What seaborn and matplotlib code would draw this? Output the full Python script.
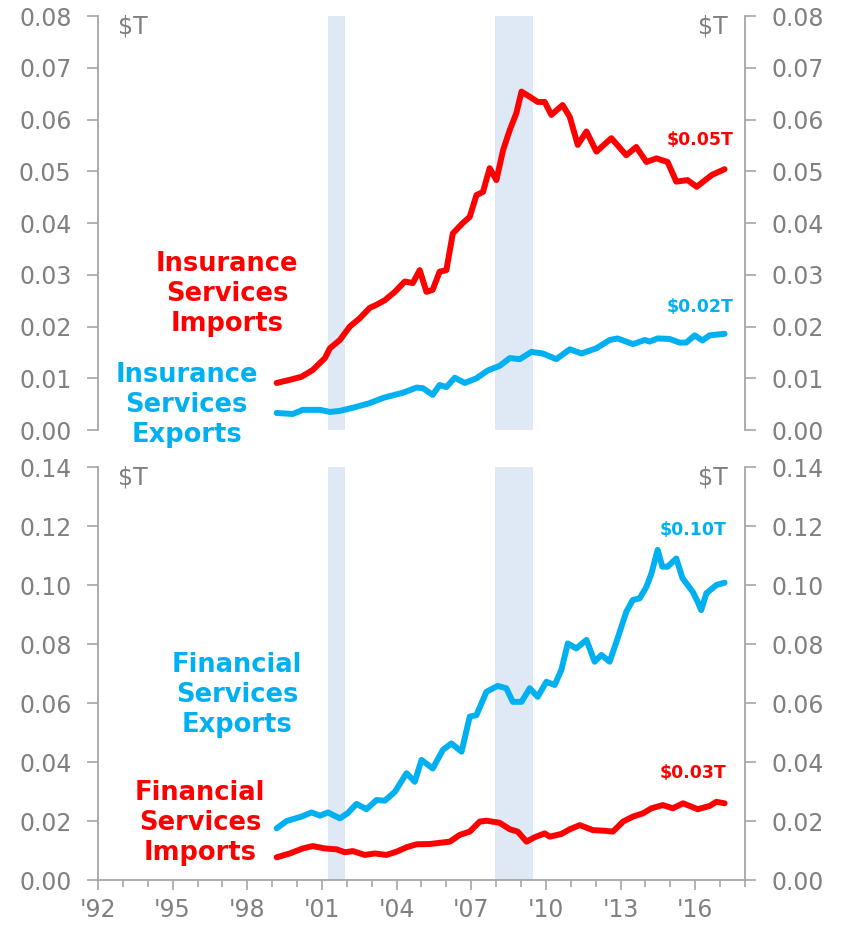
import pandas as pd
import matplotlib
matplotlib.use("Agg")
import matplotlib.pyplot as plt
import seaborn as sns
from matplotlib.ticker import MultipleLocator, FormatStrFormatter

# --- data ($T) ---
ins_imp_years = [1999.18, 1999.71, 2000.18, 2000.63, 2001.12, 2001.32, 2001.72, 2002.12,
                 2002.52, 2002.92, 2003.19, 2003.53, 2003.93, 2004.33, 2004.65, 2004.93,
                 2005.2, 2005.45, 2005.73, 2006.0, 2006.26, 2006.66, 2006.94, 2007.21,
                 2007.47, 2007.74, 2008.01, 2008.28, 2008.55, 2008.81, 2009.02, 2009.35,
                 2009.67, 2009.95, 2010.22, 2010.67, 2010.96, 2011.28, 2011.63, 2012.03,
                 2012.63, 2013.23, 2013.63, 2014.04, 2014.44, 2014.89, 2015.24, 2015.69,
                 2016.06, 2016.67, 2017.18]
ins_imp_vals = [0.0091, 0.0097, 0.0103, 0.0116, 0.0139, 0.0158, 0.0174, 0.0200,
                0.0216, 0.0236, 0.0242, 0.0251, 0.0267, 0.0287, 0.0284, 0.0309,
                0.0267, 0.0271, 0.0306, 0.0309, 0.0380, 0.0400, 0.0412, 0.0454,
                0.0460, 0.0506, 0.0483, 0.0541, 0.0580, 0.0612, 0.0654, 0.0644,
                0.0634, 0.0634, 0.0609, 0.0628, 0.0605, 0.0551, 0.0577, 0.0538,
                0.0564, 0.0531, 0.0547, 0.0518, 0.0525, 0.0518, 0.0480, 0.0483,
                0.0470, 0.0493, 0.0504]

ins_exp_years = [1999.18, 1999.83, 2000.23, 2000.92, 2001.32, 2001.72, 2002.24, 2002.92,
                 2003.45, 2004.25, 2004.8, 2005.05, 2005.45, 2005.73, 2006.0, 2006.34,
                 2006.74, 2007.21, 2007.66, 2008.14, 2008.55, 2008.95, 2009.42, 2009.87,
                 2010.42, 2010.96, 2011.43, 2012.03, 2012.56, 2012.88, 2013.5, 2013.97,
                 2014.17, 2014.49, 2014.97, 2015.37, 2015.64, 2015.98, 2016.29, 2016.58,
                 2017.18]
ins_exp_vals = [0.0033, 0.0031, 0.0039, 0.0039, 0.0035, 0.0037, 0.0043, 0.0052,
                0.0062, 0.0072, 0.0082, 0.0081, 0.0068, 0.0087, 0.0083, 0.0101,
                0.0091, 0.0100, 0.0115, 0.0124, 0.0139, 0.0137, 0.0151, 0.0148,
                0.0137, 0.0156, 0.0148, 0.0158, 0.0174, 0.0177, 0.0166, 0.0174,
                0.0171, 0.0177, 0.0176, 0.0169, 0.0169, 0.0183, 0.0173, 0.0183,
                0.0186]

fin_exp_years = [1999.18, 1999.58, 2000.18, 2000.58, 2000.92, 2001.24, 2001.72, 2002.04,
                 2002.39, 2002.79, 2003.19, 2003.53, 2003.93, 2004.4, 2004.73, 2005.0,
                 2005.45, 2005.86, 2006.2, 2006.61, 2006.94, 2007.21, 2007.61, 2008.06,
                 2008.41, 2008.67, 2009.02, 2009.35, 2009.67, 2010.02, 2010.35, 2010.62,
                 2010.88, 2011.22, 2011.63, 2011.96, 2012.23, 2012.56, 2012.88, 2013.23,
                 2013.49, 2013.77, 2014.04, 2014.24, 2014.49, 2014.68, 2014.89, 2015.24,
                 2015.49, 2015.9, 2016.1, 2016.24, 2016.45, 2016.85, 2017.18]
fin_exp_vals = [0.0175, 0.0200, 0.0215, 0.0229, 0.0218, 0.0229, 0.0209, 0.0227,
                0.0258, 0.0240, 0.0271, 0.0269, 0.0299, 0.0362, 0.0333, 0.0407,
                0.0378, 0.0441, 0.0463, 0.0435, 0.0554, 0.0559, 0.0638, 0.0658,
                0.0650, 0.0604, 0.0604, 0.0650, 0.0621, 0.0672, 0.0661, 0.0712,
                0.0802, 0.0785, 0.0814, 0.0740, 0.0763, 0.0740, 0.0819, 0.0909,
                0.0949, 0.0955, 0.0994, 0.1039, 0.1119, 0.1062, 0.1062, 0.1090,
                0.1023, 0.0977, 0.0943, 0.0915, 0.0972, 0.1000, 0.1008]

fin_imp_years = [1999.18, 1999.71, 2000.23, 2000.63, 2001.12, 2001.59, 2001.92, 2002.24,
                 2002.72, 2003.12, 2003.59, 2004.0, 2004.4, 2004.8, 2005.33, 2005.73,
                 2006.14, 2006.54, 2006.94, 2007.34, 2007.61, 2008.14, 2008.55, 2008.87,
                 2009.22, 2009.55, 2009.95, 2010.15, 2010.62, 2010.96, 2011.36, 2011.89,
                 2012.36, 2012.69, 2013.1, 2013.5, 2013.9, 2014.24, 2014.7, 2015.1,
                 2015.51, 2016.1, 2016.58, 2016.85, 2017.18]
fin_imp_vals = [0.0077, 0.0090, 0.0107, 0.0115, 0.0107, 0.0104, 0.0094, 0.0098,
                0.0085, 0.0090, 0.0085, 0.0096, 0.0111, 0.0121, 0.0122, 0.0126,
                0.0130, 0.0153, 0.0164, 0.0198, 0.0201, 0.0194, 0.0172, 0.0164,
                0.0130, 0.0145, 0.0158, 0.0147, 0.0156, 0.0172, 0.0186, 0.0169,
                0.0167, 0.0164, 0.0198, 0.0215, 0.0226, 0.0243, 0.0254, 0.0243,
                0.0260, 0.0240, 0.0251, 0.0265, 0.0260]

recessions = [(2001.25, 2001.92), (2007.95, 2009.5)]
xtick_years = list(range(1992, 2017, 3))
xtick_labels = ["'92", "'95", "'98", "'01", "'04", "'07", "'10", "'13", "'16"]

RED = "#ff0000"
BLUE = "#00b0f0"
GRAY = "#808080"
SPINE = "#a6a6a6"
SHADE = "#dfe9f6"

sns.set_style("white")
plt.rcParams["font.family"] = ["DejaVu Sans"]


def make_df(years, vals):
    return pd.DataFrame({"year": years, "value": vals})


def style_axis(ax, ymax, ystep):
    ax.set_ylim(0, ymax)
    ax.set_xlim(1992, 2018)
    ax.yaxis.set_major_locator(MultipleLocator(ystep))
    ax.yaxis.set_major_formatter(FormatStrFormatter("%.2f"))
    ax.tick_params(axis="y", which="both", left=True, right=True,
                   labelleft=True, labelright=True, length=8, width=1.2,
                   color=SPINE, labelcolor=GRAY, labelsize=17, pad=11, direction="out")
    for side in ["left", "right"]:
        ax.spines[side].set_visible(True)
        ax.spines[side].set_color(SPINE)
        ax.spines[side].set_linewidth(1.3)
    ax.spines["top"].set_visible(False)
    ax.set_xlabel("")
    ax.set_ylabel("")
    for start, end in recessions:
        ax.axvspan(start, end, color=SHADE, lw=0, zorder=0)
    ax.text(0.031, 0.975, "$T", transform=ax.transAxes, ha="left", va="center",
            fontsize=17, color=GRAY)
    ax.text(0.974, 0.975, "$T", transform=ax.transAxes, ha="right", va="center",
            fontsize=17, color=GRAY)


fig = plt.figure(figsize=(8.46, 9.27), dpi=100)
ax1 = fig.add_axes([0.1158, 0.5361, 0.7648, 0.4466])
ax2 = fig.add_axes([0.1158, 0.0507, 0.7648, 0.4455])

# top panel: insurance
sns.lineplot(data=make_df(ins_imp_years, ins_imp_vals), x="year", y="value",
             color=RED, lw=4.3, ax=ax1, solid_capstyle="round", solid_joinstyle="round")
sns.lineplot(data=make_df(ins_exp_years, ins_exp_vals), x="year", y="value",
             color=BLUE, lw=4.3, ax=ax1, solid_capstyle="round", solid_joinstyle="round")
style_axis(ax1, 0.08, 0.01)
ax1.spines["bottom"].set_visible(False)
ax1.tick_params(axis="x", which="both", bottom=False, labelbottom=False)

ax1.text(1997.18, 0.0263, "Insurance\nServices\nImports", color=RED, fontsize=18.5,
         fontweight="bold", ha="center", va="center", linespacing=1.2)
ax1.text(1995.57, 0.0048, "Insurance\nServices\nExports", color=BLUE, fontsize=18.5,
         fontweight="bold", ha="center", va="center", linespacing=1.2)
ax1.text(2016.18, 0.056, "$0.05T", color=RED, fontsize=12.5, fontweight="bold",
         ha="center", va="center")
ax1.text(2016.18, 0.0238, "$0.02T", color=BLUE, fontsize=12.5, fontweight="bold",
         ha="center", va="center")

# bottom panel: financial services
sns.lineplot(data=make_df(fin_exp_years, fin_exp_vals), x="year", y="value",
             color=BLUE, lw=4.3, ax=ax2, solid_capstyle="round", solid_joinstyle="round")
sns.lineplot(data=make_df(fin_imp_years, fin_imp_vals), x="year", y="value",
             color=RED, lw=4.3, ax=ax2, solid_capstyle="round", solid_joinstyle="round")
style_axis(ax2, 0.14, 0.02)
ax2.spines["bottom"].set_visible(True)
ax2.spines["bottom"].set_color(SPINE)
ax2.spines["bottom"].set_linewidth(1.3)
ax2.set_xticks(xtick_years)
ax2.set_xticklabels(xtick_labels)
ax2.xaxis.set_minor_locator(MultipleLocator(1))
ax2.tick_params(axis="x", which="major", bottom=True, length=7, width=1.2,
                color=SPINE, labelcolor=GRAY, labelsize=17, pad=6, direction="out")
ax2.tick_params(axis="x", which="minor", bottom=True, length=5, width=1.2,
                color=SPINE, direction="out")

ax2.text(1997.58, 0.0627, "Financial\nServices\nExports", color=BLUE, fontsize=18.5,
         fontweight="bold", ha="center", va="center", linespacing=1.2)
ax2.text(1996.1, 0.0193, "Financial\nServices\nImports", color=RED, fontsize=18.5,
         fontweight="bold", ha="center", va="center", linespacing=1.2)
ax2.text(2015.91, 0.1186, "$0.10T", color=BLUE, fontsize=12.5, fontweight="bold",
         ha="center", va="center")
ax2.text(2015.91, 0.0363, "$0.03T", color=RED, fontsize=12.5, fontweight="bold",
         ha="center", va="center")

fig.savefig("out.png", dpi=100, facecolor="white")
